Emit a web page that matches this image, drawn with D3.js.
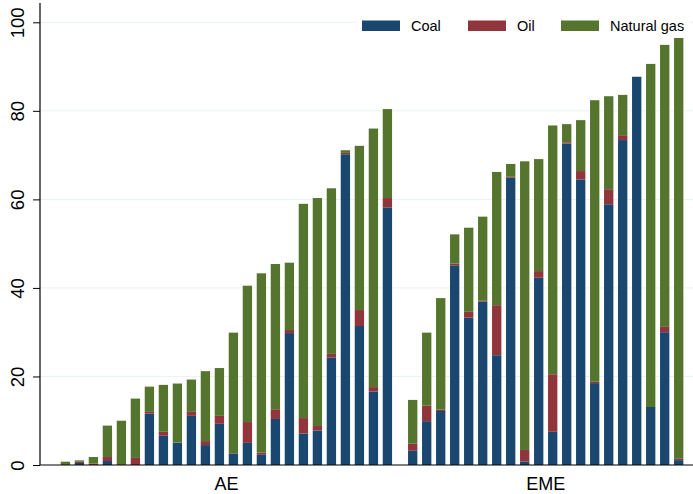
<!DOCTYPE html>
<html>
<head>
<meta charset="utf-8">
<script src="https://cdn.jsdelivr.net/npm/d3@7"></script>
<style>
  html, body { margin: 0; padding: 0; background: #ffffff; }
  svg { display: block; font-family: "Liberation Sans", Arial, sans-serif; }
</style>
</head>
<body>
<svg id="chart" width="693" height="494"></svg>
<script>
// ---- data ----
const groups = ["AE", "EME"];
const series = ["Coal", "Oil", "Natural gas"];
const seriesColors = ["#1a476f", "#90353b", "#55752f"];
const yTicks = [0, 20, 40, 60, 80, 100];

const aeCoal = [0, 0.45, 0, 0.9, 0, 0, 11.6, 6.6, 5.0, 11.1, 4.5, 9.3, 2.6, 5.0, 2.3, 10.4, 29.8, 7.1, 7.8, 24.3, 70.2, 31.4, 16.6, 58.2];
const aeOil  = [0, 0.3, 0.3, 0.9, 0, 1.6, 0.4, 0.9, 0.1, 0.9, 0.9, 1.8, 0.1, 4.7, 0.5, 2.2, 0.7, 3.5, 1.0, 0.8, 0.3, 3.6, 1.0, 2.1];
const aeGas  = [0.75, 0.3, 1.5, 7.1, 10.0, 13.4, 5.7, 10.6, 13.3, 7.3, 15.8, 10.8, 27.2, 30.8, 40.5, 32.8, 15.2, 48.4, 51.5, 37.4, 0.6, 37.1, 58.4, 20.1];

const emeCoal = [3.2, 9.9, 12.2, 45.1, 33.3, 36.9, 24.8, 64.9, 0.8, 42.3, 7.5, 72.6, 64.5, 18.5, 58.9, 73.4, 87.7, 13.1, 30.0, 1.1];
const emeOil  = [1.6, 3.5, 0.3, 0.4, 1.3, 0.2, 11.3, 0.2, 2.6, 1.5, 13.0, 0.3, 1.9, 0.3, 3.4, 1.1, 0, 0, 1.2, 0.3];
const emeGas  = [9.9, 16.5, 25.2, 6.6, 19.0, 19.0, 30.1, 2.9, 65.2, 25.3, 56.2, 4.1, 11.5, 63.6, 21.0, 9.1, 0, 77.5, 63.7, 95.3];

// ---- layout ----
const svg = d3.select("#chart");
const plotLeft = 40, plotRight = 693, plotTop = 3, baseY = 465;

const y = d3.scaleLinear().domain([0, 100]).range([baseY, 22.3]);

const groupRanges = { AE: [58.4, 394.4], EME: [405.7, 685.7] };
const groupData = {
  AE: aeCoal.map((c, i) => ({ id: "AE" + i, Coal: c, Oil: aeOil[i], "Natural gas": aeGas[i] })),
  EME: emeCoal.map((c, i) => ({ id: "EME" + i, Coal: c, Oil: emeOil[i], "Natural gas": emeGas[i] }))
};

// gridlines
svg.append("g").selectAll("line")
  .data(yTicks.filter(t => t > 0))
  .join("line")
  .attr("x1", plotLeft).attr("x2", plotRight)
  .attr("y1", d => y(d)).attr("y2", d => y(d))
  .attr("stroke", "#eaf2f3").attr("stroke-width", 1);

const stack = d3.stack().keys(series);

groups.forEach(g => {
  const data = groupData[g];
  const x = d3.scaleBand()
    .domain(data.map(d => d.id))
    .range(groupRanges[g])
    .paddingInner(1 / 3)
    .paddingOuter(1 / 6);
  const stacked = stack(data);
  svg.append("g").selectAll("g")
    .data(stacked)
    .join("g")
    .attr("fill", (d, i) => seriesColors[i])
    .selectAll("rect")
    .data(d => d)
    .join("rect")
    .attr("x", d => x(d.data.id))
    .attr("width", x.bandwidth())
    .attr("y", d => y(d[1]))
    .attr("height", d => Math.max(0, y(d[0]) - y(d[1])));

  // group label
  const r = groupRanges[g];
  svg.append("text")
    .attr("x", (r[0] + r[1]) / 2)
    .attr("y", 490)
    .attr("text-anchor", "middle")
    .attr("font-size", 18)
    .attr("fill", "#000")
    .text(g);
});

// y axis
const yAxis = d3.axisLeft(y).tickValues(yTicks).tickSize(7).tickPadding(0).tickFormat(d3.format("d"));
const yg = svg.append("g").attr("transform", `translate(${plotLeft},0)`).call(yAxis);
yg.select(".domain").remove();
yg.selectAll(".tick line").attr("stroke", "#000").attr("stroke-width", 1);
yg.selectAll(".tick text")
  .attr("transform", "translate(-16,0) rotate(-90)")
  .attr("x", 0).attr("y", 0).attr("dy", 0)
  .attr("text-anchor", "middle")
  .attr("font-size", 18.5)
  .attr("font-family", "Liberation Sans, Arial, sans-serif")
  .attr("fill", "#000");

// axis lines
svg.append("line")
  .attr("x1", plotLeft).attr("x2", plotLeft)
  .attr("y1", plotTop).attr("y2", baseY)
  .attr("stroke", "#000").attr("stroke-width", 1.2);
svg.append("line")
  .attr("x1", plotLeft).attr("x2", plotRight)
  .attr("y1", baseY).attr("y2", baseY)
  .attr("stroke", "#000").attr("stroke-width", 1.2);

// legend
const legend = svg.append("g");
legend.append("rect").attr("x", 357).attr("y", 12).attr("width", 333).attr("height", 26).attr("fill", "#fff");
const legendItems = [
  { name: series[0], color: seriesColors[0], sx: 362, tx: 411 },
  { name: series[1], color: seriesColors[1], sx: 468, tx: 517 },
  { name: series[2], color: seriesColors[2], sx: 561, tx: 610 }
];
legendItems.forEach(it => {
  legend.append("rect").attr("x", it.sx).attr("y", 20.5).attr("width", 38).attr("height", 10.5).attr("fill", it.color);
  legend.append("text").attr("x", it.tx).attr("y", 30.5).attr("font-size", 14.5).attr("fill", "#000").text(it.name);
});
</script>
</body>
</html>
